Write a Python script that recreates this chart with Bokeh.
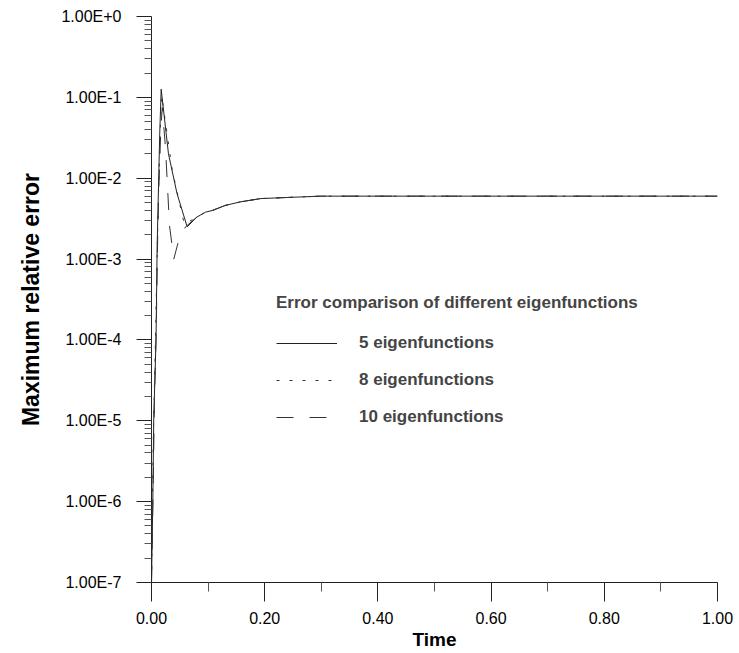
from bokeh.plotting import figure
from bokeh.models import (Range1d, FixedTicker, NumeralTickFormatter,
                          CustomJSTickFormatter, Legend, LegendItem)
from bokeh.embed import file_html
from bokeh.resources import INLINE

# ---- data ----
time_5 = [0.0, 0.0023, 0.004, 0.008, 0.010, 0.0124, 0.0145, 0.0171, 0.030, 0.045,
          0.063, 0.080, 0.0954, 0.108, 0.130, 0.157, 0.193, 0.246, 0.30, 0.40,
          0.50, 0.60, 0.70, 0.80, 0.90, 1.00]
err_5 = [1e-7, 1.0e-6, 1.1e-5, 1.0e-4, 1.5e-3, 8.0e-3, 3.5e-2, 0.126, 2.0e-2, 6.5e-3,
         2.5e-3, 3.3e-3, 3.8e-3, 4.0e-3, 4.6e-3, 5.1e-3, 5.6e-3, 5.8e-3, 6.0e-3, 6.0e-3,
         6.0e-3, 6.0e-3, 6.0e-3, 6.0e-3, 6.0e-3, 6.0e-3]

time_8 = [0.0, 0.0015, 0.0035, 0.0065, 0.0095, 0.0125, 0.0155, 0.018, 0.0366, 0.058,
          0.080, 0.0954, 0.108, 0.130, 0.157, 0.193, 0.246, 0.30, 0.40, 0.50,
          0.60, 0.70, 0.80, 0.90, 1.00]
err_8 = [1e-7, 8e-7, 8e-6, 7e-5, 8e-4, 7e-3, 4e-2, 0.105, 1.26e-2, 2.7e-3,
         3.3e-3, 3.8e-3, 4.0e-3, 4.6e-3, 5.1e-3, 5.6e-3, 5.8e-3, 6.0e-3, 6.0e-3, 6.0e-3,
         6.0e-3, 6.0e-3, 6.0e-3, 6.0e-3, 6.0e-3]

time_10 = [0.0, 0.0028, 0.005, 0.0085, 0.011, 0.0135, 0.0165, 0.019, 0.0247, 0.0318,
           0.0394, 0.0465, 0.060, 0.080, 0.0954, 0.108, 0.130, 0.157, 0.193, 0.246,
           0.30, 0.40, 0.50, 0.60, 0.70, 0.80, 0.90, 1.00]
err_10 = [1e-7, 1.3e-6, 1.5e-5, 1.5e-4, 2e-3, 1e-2, 4e-2, 0.075, 2.4e-2, 2.6e-3,
          1.0e-3, 1.55e-3, 2.5e-3, 3.3e-3, 3.8e-3, 4.0e-3, 4.6e-3, 5.1e-3, 5.6e-3, 5.8e-3,
          6.0e-3, 6.0e-3, 6.0e-3, 6.0e-3, 6.0e-3, 6.0e-3, 6.0e-3, 6.0e-3]

x_ticks = [0.0, 0.2, 0.4, 0.6, 0.8, 1.0]
x_minor = [0.1, 0.3, 0.5, 0.7, 0.9]
y_ticks = [10.0 ** k for k in range(-7, 1)]
y_minor = [m * 10.0 ** k for k in range(-7, 0) for m in range(2, 10)]

series_labels = ["5 eigenfunctions", "8 eigenfunctions", "10 eigenfunctions"]
legend_title = "Error comparison of different eigenfunctions"

FONT = "Liberation Sans"

p = figure(width=739, height=653, x_range=Range1d(0, 1), y_range=Range1d(1e-7, 1),
           y_axis_type="log", output_backend="svg", toolbar_location=None,
           min_border_left=151, min_border_right=22, min_border_top=16,
           min_border_bottom=71)
p.outline_line_color = None
p.xgrid.grid_line_color = None
p.ygrid.grid_line_color = None
p.background_fill_color = "white"
p.border_fill_color = "white"

r5 = p.line(time_5, err_5, line_color="#222222", line_width=1)
r8 = p.line(time_8, err_8, line_color="#333333", line_width=1, line_dash="3 10")
r10 = p.line(time_10, err_10, line_color="#333333", line_width=1, line_dash="17 16")

# axes
xa = p.xaxis[0]
xa.ticker = FixedTicker(ticks=x_ticks, minor_ticks=x_minor)
xa.formatter = NumeralTickFormatter(format="0.00")
xa.axis_label = "Time"
ya = p.yaxis[0]
ya.ticker = FixedTicker(ticks=y_ticks, minor_ticks=y_minor)
ya.formatter = CustomJSTickFormatter(code="""
const e = Math.round(Math.log10(tick));
return '1.00E' + (e >= 0 ? '+' : '') + e;
""")
ya.axis_label = "Maximum relative error"

for ax in (xa, ya):
    ax.axis_line_color = "#222222"
    ax.major_tick_line_color = "#222222"
    ax.minor_tick_line_color = "#555555"
    ax.major_tick_in = 0
    ax.minor_tick_in = 0
    ax.major_label_text_font = FONT
    ax.major_label_text_font_size = "16px"
    ax.major_label_text_color = "black"
    ax.axis_label_text_font = FONT
    ax.axis_label_text_font_style = "bold"
    ax.axis_label_text_color = "black"

xa.major_tick_out = 19
xa.minor_tick_out = 9
xa.major_label_standoff = 10
xa.axis_label_text_font_size = "19px"
xa.axis_label_standoff = 2

ya.major_tick_out = 15
ya.minor_tick_out = 7
ya.major_label_standoff = 15
ya.axis_label_text_font_size = "23px"
ya.axis_label_standoff = 14

legend = Legend(items=[LegendItem(label=series_labels[0], renderers=[r5]),
                       LegendItem(label=series_labels[1], renderers=[r8]),
                       LegendItem(label=series_labels[2], renderers=[r10])],
                location=(125, 155), title=legend_title)
legend.background_fill_alpha = 0
legend.border_line_color = None
legend.padding = 0
legend.margin = 0
legend.spacing = 17
legend.glyph_width = 61
legend.glyph_height = 20
legend.label_height = 20
legend.label_standoff = 22
legend.title_standoff = 20
legend.label_text_font = FONT
legend.label_text_font_style = "bold"
legend.label_text_font_size = "17px"
legend.title_text_font = FONT
legend.title_text_font_style = "bold"
legend.title_text_font_size = "17px"
p.add_layout(legend)

open("out.html", "w").write(file_html(p, INLINE))
